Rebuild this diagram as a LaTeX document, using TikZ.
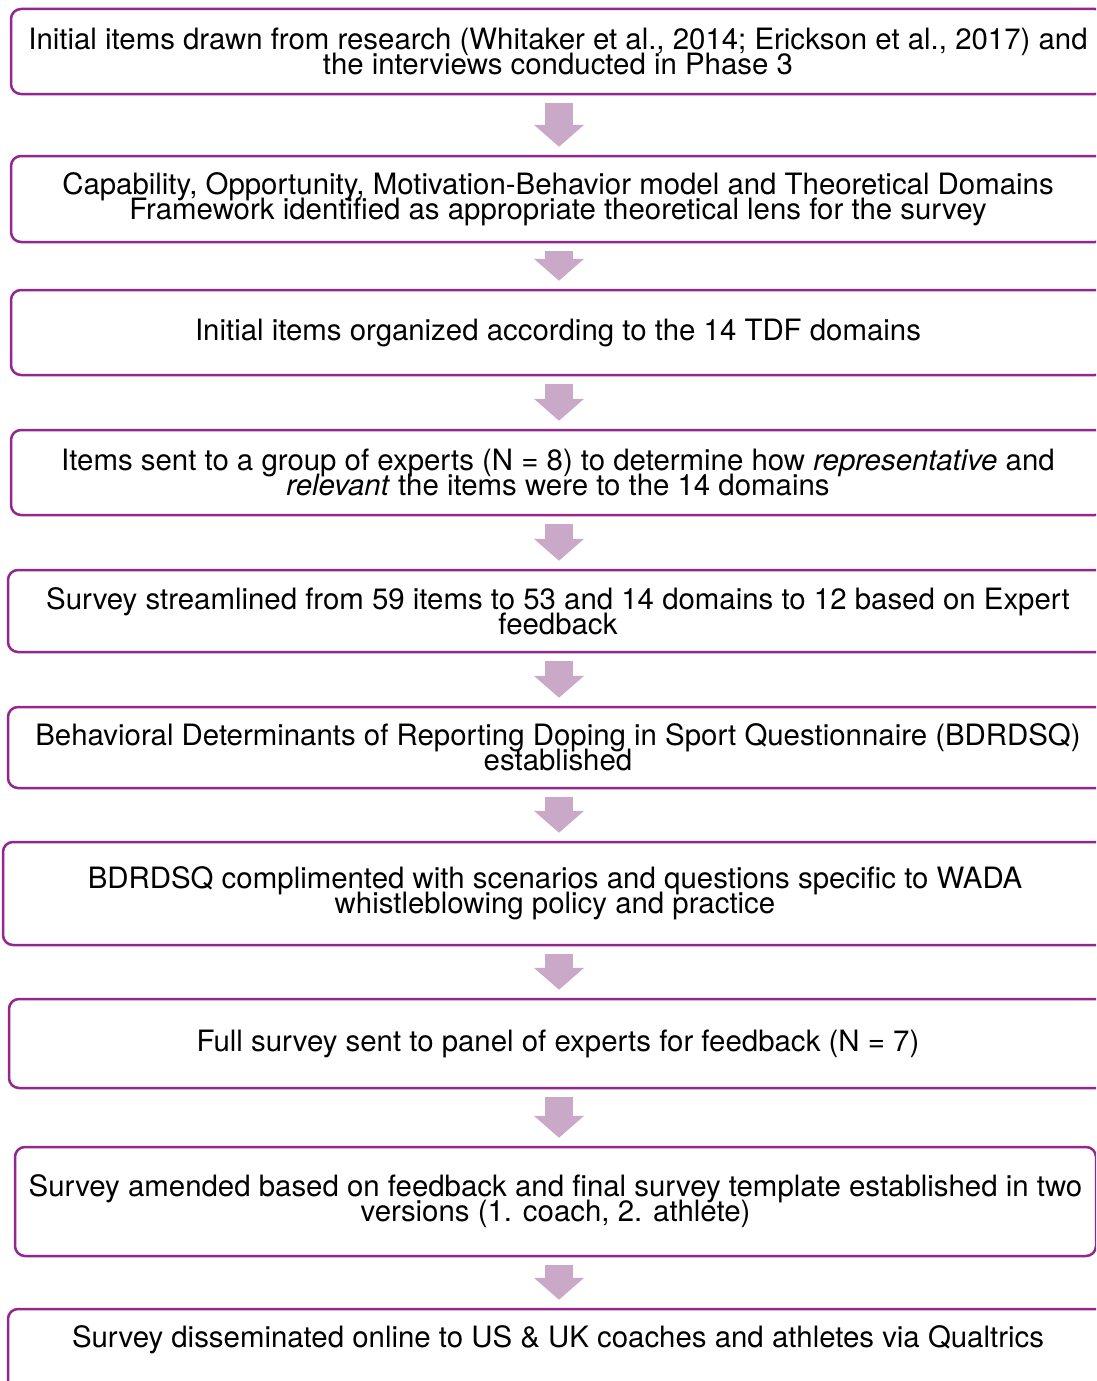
\documentclass[tikz,border=0pt]{standalone}
\usepackage{fontspec}
\setmainfont{TeX Gyre Heros}
\usetikzlibrary{arrows.meta}
\definecolor{boxpurple}{HTML}{93278F}
\definecolor{arrowmauve}{HTML}{C9A8C8}
\newcommand{\stagefont}{\fontsize{29.4}{25}\selectfont\lineskiplimit-30pt\relax}
\tikzset{
  stage/.style={draw=boxpurple, line width=2.5pt, rounded corners=10pt,
    fill=white, minimum width=1094pt, minimum height=85pt, align=center,
    inner sep=2pt, font=\stagefont},
  flow/.style={arrowmauve, line width=28pt,
    -{Triangle[width=49pt,length=22pt]}, shorten <=8pt, shorten >=8pt}
}
\newcommand{\stagebox}[4][]{%
  \node[stage, #1] (#2) at (558,#3) {#4};}
\newcommand{\flowdown}[2]{%
  \draw[flow] (#1.south -| spine) -- (#2.north -| spine);}

\begin{document}
\begin{tikzpicture}[x=1pt, y=-1pt]
  \useasboundingbox (0,0) rectangle (1096,1381);
  \clip (0,0) rectangle (1096,1381);
  \coordinate (spine) at (559,0);
  \stagebox{s1}{51.5}{Initial items drawn from research (Whitaker et al., 2014; Erickson et al., 2017) and\\
    the interviews conducted in Phase 3}
  \stagebox[minimum height=86pt]{s2}{199}{Capability, Opportunity, Motivation-Behavior model and Theoretical Domains\\
    Framework identified as appropriate theoretical lens for the survey}
  \stagebox{s3}{332.5}{Initial items organized according to the 14 TDF domains}
  \stagebox{s4}{472.5}{Items sent to a group of experts (N = 8) to determine how \textit{representative} and\\
    \textit{relevant} the items were to the 14 domains}
  \stagebox[minimum height=82pt, minimum width=1100pt]{s5}{611}{Survey streamlined from 59 items to 53 and 14 domains to 12 based on Expert\\
    feedback}
  \stagebox[minimum height=81pt, minimum width=1100pt]{s6}{747.5}{Behavioral Determinants of Reporting Doping in Sport Questionnaire (BDRDSQ)\\
    established}
  \stagebox[minimum height=103pt, minimum width=1104pt, xshift=-3pt]{s7}{893.5}{BDRDSQ complimented with scenarios and questions specific to WADA\\
    whistleblowing policy and practice}
  \stagebox[minimum height=89pt, minimum width=1098pt]{s8}{1043.5}{Full survey sent to panel of experts for feedback (N = 7)}
  \stagebox[minimum height=109pt, minimum width=1081pt, xshift=-2.5pt]{s9}{1201.5}{Survey amended based on feedback and final survey template established in two\\
    versions (1. coach, 2. athlete)}
  \stagebox[minimum height=86pt, minimum width=1100pt, text depth=31pt]{s10}{1352}{Survey disseminated online to US \& UK coaches and athletes via Qualtrics}
  \flowdown{s1}{s2}
  \flowdown{s2}{s3}
  \flowdown{s3}{s4}
  \flowdown{s4}{s5}
  \flowdown{s5}{s6}
  \flowdown{s6}{s7}
  \flowdown{s7}{s8}
  \flowdown{s8}{s9}
  \flowdown{s9}{s10}
\end{tikzpicture}
\end{document}
